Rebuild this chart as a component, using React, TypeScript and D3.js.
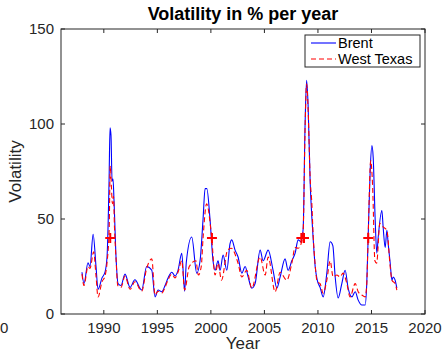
import React from "react";
import * as d3 from "d3";

// Rolling volatility (% per year) of crude oil prices
const brentYears = [
  1987.96, 1988.15, 1988.52, 1988.71, 1989.0, 1989.27, 1989.46, 1989.83, 1990.11, 1990.3,
  1990.49, 1990.58, 1990.67, 1990.77, 1990.86, 1990.95, 1991.14, 1991.33, 1991.6, 1991.98,
  1992.45, 1992.9, 1993.54, 1994.0, 1994.48, 1994.78, 1995.07, 1995.41, 1995.72, 1996.0,
  1996.35, 1996.65, 1996.93, 1997.28, 1997.55, 1997.7, 1998.21, 1998.68, 1998.99, 1999.27,
  1999.46, 1999.62, 1999.93, 2000.2, 2000.39, 2000.67, 2000.86, 2001.14, 2001.49, 2001.79,
  2001.95, 2002.26, 2002.54, 2002.89, 2003.2, 2003.48, 2003.82, 2004.13, 2004.6, 2004.88,
  2005.35, 2005.81, 2006.16, 2006.47, 2006.93, 2007.21, 2007.56, 2007.87, 2008.15, 2008.43,
  2008.62, 2008.8, 2008.94, 2009.08, 2009.27, 2009.43, 2009.55, 2009.74, 2009.93, 2010.2,
  2010.49, 2010.83, 2011.14, 2011.39, 2011.61, 2011.89, 2012.23, 2012.54, 2012.82, 2013.17,
  2013.48, 2013.76, 2014.1, 2014.41, 2014.56, 2014.69, 2014.88, 2015.04, 2015.16, 2015.35,
  2015.5, 2015.63, 2015.97, 2016.09, 2016.28, 2016.44, 2016.56, 2016.75, 2016.91, 2017.03,
  2017.21, 2017.37,
];
const brentVol = [
  22, 16, 27, 25, 42, 25, 13, 19, 22, 30,
  70, 98, 94, 70, 71, 60, 30, 16, 15, 21,
  14, 18, 12.6, 25, 23, 9, 12.6, 11.7, 15, 19,
  22, 20, 23, 32, 12, 27, 40.5, 21.5, 28, 50,
  66, 66, 49, 28, 23, 28, 23, 31, 23, 37,
  39, 33.6, 30, 21.5, 25, 19.5, 13.6, 16, 33.6, 28,
  33.6, 23, 13.6, 19.5, 29, 23, 28, 32, 39, 38,
  45, 100, 123, 110, 70, 51, 40, 25, 18, 14,
  9, 21.5, 38, 36, 19.5, 8.4, 16, 23, 13.6, 9,
  11.7, 7.3, 4.7, 4.7, 16, 40.5, 75.5, 88.6, 82.5, 49,
  32, 40.5, 54.5, 45.8, 35, 44, 37, 26.7, 17.8, 19.5,
  17.8, 13.6,
];

const wtiYears = [
  1987.96, 1988.15, 1988.52, 1988.71, 1989.05, 1989.27, 1989.46, 1989.83, 1990.11, 1990.3,
  1990.5, 1990.6, 1990.7, 1990.8, 1990.9, 1991.0, 1991.15, 1991.3, 1991.6, 1991.98,
  1992.45, 1992.9, 1993.54, 1994.0, 1994.48, 1994.78, 1995.07, 1995.41, 1995.72, 1996.0,
  1996.35, 1996.65, 1996.93, 1997.28, 1997.55, 1997.98, 1998.6, 1998.83, 1999.1, 1999.27,
  1999.6, 2000.07, 2000.39, 2000.67, 2000.99, 2001.56, 2001.9, 2002.54, 2002.89, 2003.35,
  2003.82, 2004.6, 2005.07, 2005.35, 2006.0, 2006.47, 2007.09, 2007.56, 2007.87, 2008.15,
  2008.43, 2008.62, 2008.8, 2008.94, 2009.08, 2009.27, 2009.43, 2009.55, 2009.74, 2009.93,
  2010.2, 2010.49, 2010.83, 2011.14, 2011.42, 2011.77, 2012.06, 2012.35, 2012.7, 2013.0,
  2013.48, 2013.76, 2014.1, 2014.41, 2014.56, 2014.69, 2014.93, 2015.11, 2015.32, 2015.48,
  2015.79, 2016.09, 2016.44, 2016.75, 2016.91, 2017.21, 2017.37,
];
const wtiVol = [
  21, 15, 25, 24, 32.7, 20, 9, 17, 20, 27,
  45, 78, 68, 58, 62, 45, 28, 15, 14, 20,
  13, 17, 12, 24, 29, 10, 12, 11, 14, 18,
  21, 19, 22, 28, 12.6, 25, 28, 20.5, 25, 40,
  58, 40.5, 20.5, 26.7, 17.8, 33.6, 34.6, 26.7, 19.5, 23,
  13.6, 30, 20.5, 30, 11.7, 22, 17.8, 26.7, 35, 34.6,
  37, 44, 98, 121, 108, 72, 58, 42, 26, 17,
  16, 11, 17.8, 28, 19.5, 20.5, 19.5, 21.5, 16, 9,
  16, 11.7, 10, 9, 16, 40.5, 80.7, 66.8, 28, 26.7,
  47.7, 45.8, 44, 24.8, 17.8, 16, 12.6,
];

// Event markers
const eventYears = [1990.6, 2000.1, 2008.45, 2008.7, 2014.7];
const eventVol = [40, 40, 40, 40, 40];

const xTicks = [1990, 1995, 2000, 2005, 2010, 2015, 2020];
const yTicks = [0, 50, 100, 150];

const W = 446;
const H = 352;
const M = { left: 61, right: 425, top: 29, bottom: 314 };
const axisColor = "#262626";
const font = "'Liberation Sans', Arial, Helvetica, sans-serif";

export default function App() {
  const x = d3.scaleLinear().domain([1986, 2020]).range([M.left, M.right]);
  const y = d3.scaleLinear().domain([0, 150]).range([M.bottom, M.top]);

  const line = d3
    .line<[number, number]>()
    .x((d) => x(d[0]))
    .y((d) => y(d[1]))
    .curve(d3.curveMonotoneX);

  const brent = line(brentYears.map((t, i) => [t, brentVol[i]] as [number, number])) || "";
  const wti = line(wtiYears.map((t, i) => [t, wtiVol[i]] as [number, number])) || "";

  const tickLen = 4;

  return (
    <svg
      width={W}
      height={H}
      style={{ position: "absolute", left: 0, top: 0, background: "#fff" }}
      fontFamily={font}
    >
      <rect x={0} y={0} width={W} height={H} fill="#fff" />
      <defs>
        <clipPath id="plot">
          <rect x={M.left} y={M.top} width={M.right - M.left} height={M.bottom - M.top} />
        </clipPath>
      </defs>

      <g clipPath="url(#plot)">
        <path d={brent} fill="none" stroke="#0000ff" strokeWidth={1.1} />
        <path d={wti} fill="none" stroke="#ff0000" strokeWidth={1.1} strokeDasharray="5 3" />
        {eventYears.map((t, i) => (
          <g key={i} stroke="#ff0000" strokeWidth={2}>
            <line x1={x(t) - 5} x2={x(t) + 5} y1={y(eventVol[i])} y2={y(eventVol[i])} />
            <line x1={x(t)} x2={x(t)} y1={y(eventVol[i]) - 5} y2={y(eventVol[i]) + 5} />
          </g>
        ))}
      </g>

      {/* axes box */}
      <rect
        x={M.left}
        y={M.top}
        width={M.right - M.left}
        height={M.bottom - M.top}
        fill="none"
        stroke={axisColor}
        strokeWidth={1}
      />

      {/* x ticks */}
      {xTicks.map((t) => (
        <g key={t}>
          <line x1={x(t)} x2={x(t)} y1={M.bottom} y2={M.bottom - tickLen} stroke={axisColor} />
          <line x1={x(t)} x2={x(t)} y1={M.top} y2={M.top + tickLen} stroke={axisColor} />
          <text x={x(t)} y={333} textAnchor="middle" fontSize={15} fill={axisColor}>
            {t}
          </text>
        </g>
      ))}
      <text x={0} y={333} textAnchor="start" fontSize={15} fill={axisColor}>
        0
      </text>

      {/* y ticks */}
      {yTicks.map((v) => (
        <g key={v}>
          <line x1={M.left} x2={M.left + tickLen} y1={y(v)} y2={y(v)} stroke={axisColor} />
          <line x1={M.right} x2={M.right - tickLen} y1={y(v)} y2={y(v)} stroke={axisColor} />
          <text x={54} y={y(v) + 5} textAnchor="end" fontSize={15} fill={axisColor}>
            {v}
          </text>
        </g>
      ))}

      {/* titles */}
      <text x={(M.left + M.right) / 2} y={20} textAnchor="middle" fontSize={18} fontWeight="bold" fill="#000">
        Volatility in % per year
      </text>
      <text x={(M.left + M.right) / 2} y={349} textAnchor="middle" fontSize={17} fill={axisColor}>
        Year
      </text>
      <text
        transform={`translate(21, ${(M.top + M.bottom) / 2}) rotate(-90)`}
        textAnchor="middle"
        fontSize={17}
        fill={axisColor}
      >
        Volatility
      </text>

      {/* legend */}
      <g>
        <rect x={305} y={35} width={115} height={32} fill="#fff" stroke={axisColor} strokeWidth={1} />
        <line x1={311} x2={336} y1={43} y2={43} stroke="#0000ff" strokeWidth={1.1} />
        <line x1={311} x2={336} y1={59} y2={59} stroke="#ff0000" strokeWidth={1.1} strokeDasharray="5 3" />
        <text x={338} y={47.8} fontSize={14.5} fill="#000">
          Brent
        </text>
        <text x={338} y={64.3} fontSize={14.5} fill="#000">
          West Texas
        </text>
      </g>
    </svg>
  );
}
